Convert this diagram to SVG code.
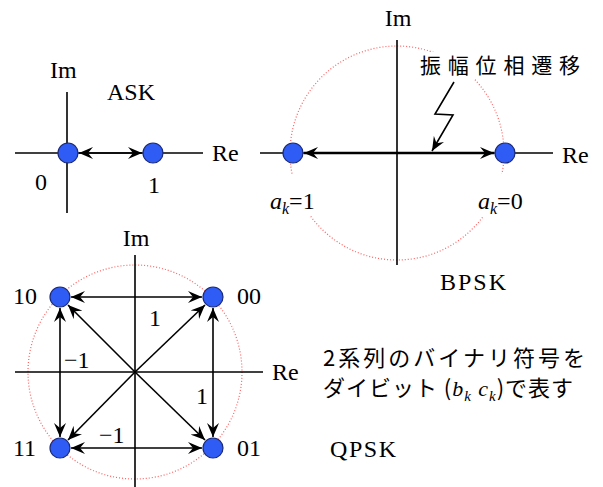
<svg xmlns="http://www.w3.org/2000/svg" width="603" height="487" viewBox="0 0 603 487">
<style>
.ax{stroke:#000;stroke-width:1.6;fill:none}
.ar{stroke:#000;stroke-width:1.6;fill:none;marker-end:url(#ah)}
.ar2{stroke:#000;stroke-width:1.6;fill:none;marker-start:url(#ah);marker-end:url(#ah)}
.dot{fill:#2f5cf5;stroke:#1b2a78;stroke-width:1.2}
.ring{fill:none;stroke:#ff6060;stroke-width:1.2;stroke-dasharray:1 2}
.t{font-family:"Liberation Serif","Times New Roman",serif;font-size:24px;fill:#000}
.j{font-family:"Noto Sans CJK JP",sans-serif;font-size:21px;fill:#000}
.bg{fill:#fff}
</style>
<defs>
<marker id="ah" viewBox="0 0 14 12" refX="14" refY="6" markerWidth="14" markerHeight="12" markerUnits="userSpaceOnUse" orient="auto-start-reverse">
<path d="M0,0 L14,6 L0,12 L5,6 z" fill="#000"/>
</marker>
</defs>
<rect width="603" height="487" fill="#fff"/>

<g id="axes">
<line class="ax" x1="15" y1="153" x2="203" y2="153"/>
<line class="ax" x1="67" y1="92" x2="67" y2="213"/>
<circle class="ring" cx="397" cy="153" r="107"/>
<line class="ax" x1="260" y1="153" x2="553" y2="153"/>
<line class="ax" x1="397" y1="40" x2="397" y2="265"/>
<circle class="ring" cx="135" cy="372" r="107"/>
<line class="ax" x1="15" y1="372" x2="263" y2="372"/>
<line class="ax" x1="135" y1="255" x2="135" y2="487"/>
</g>

<g id="connectors">
<line class="ar2" x1="79" y1="153" x2="142" y2="153"/>
<line class="ar2" x1="304" y1="153" x2="494" y2="153" style="stroke-width:2.6"/>
<polyline class="ar" points="454,82 435,114 453,115 432,151"/>
<line class="ar2" x1="71" y1="297" x2="202" y2="297"/>
<line class="ar2" x1="71" y1="448" x2="202" y2="448"/>
<line class="ar2" x1="60" y1="308" x2="60" y2="437"/>
<line class="ar2" x1="213" y1="308" x2="213" y2="437"/>
<line class="ar" x1="135" y1="372" x2="205" y2="305"/>
<line class="ar" x1="135" y1="372" x2="68" y2="305"/>
<line class="ar" x1="135" y1="372" x2="68" y2="440"/>
<line class="ar" x1="135" y1="372" x2="205" y2="440"/>
</g>

<g id="ask">
<text class="t" x="50" y="78">Im</text>
<text class="t" x="107" y="100">ASK</text>
<text class="t" x="212" y="161">Re</text>
<text class="t" x="35" y="190">0</text>
<text class="t" x="148" y="193">1</text>
<circle class="dot" cx="68" cy="153" r="10"/>
<circle class="dot" cx="153" cy="153" r="10"/>
</g>

<g id="bpsk">
<text class="t" x="398" y="26" text-anchor="middle">Im</text>
<rect class="bg" x="418" y="52" width="166" height="27"/>
<text class="j" x="420" y="73" textLength="160" lengthAdjust="spacing">振幅位相遷移</text>
<text class="t" x="562" y="163">Re</text>
<circle class="dot" cx="293" cy="153" r="10"/>
<circle class="dot" cx="505" cy="153" r="10"/>
<rect class="bg" x="266" y="174" width="56" height="42"/>
<text class="t" x="270" y="209"><tspan font-style="italic">a</tspan><tspan font-style="italic" font-size="16" dy="5">k</tspan><tspan dy="-5">=1</tspan></text>
<rect class="bg" x="476" y="174" width="56" height="42"/>
<text class="t" x="478" y="209"><tspan font-style="italic">a</tspan><tspan font-style="italic" font-size="16" dy="5">k</tspan><tspan dy="-5">=0</tspan></text>
<text class="t" x="440" y="290" textLength="66" lengthAdjust="spacing">BPSK</text>
</g>

<g id="qpsk">
<text class="t" x="136" y="246" text-anchor="middle">Im</text>
<text class="t" x="272" y="380">Re</text>
<circle class="dot" cx="60" cy="297" r="10"/>
<circle class="dot" cx="213" cy="297" r="10"/>
<circle class="dot" cx="60" cy="448" r="10"/>
<circle class="dot" cx="213" cy="448" r="10"/>
<text class="t" x="13" y="304">10</text>
<text class="t" x="237" y="304">00</text>
<text class="t" x="13" y="456">11</text>
<text class="t" x="237" y="456">01</text>
<text class="t" x="149" y="326">1</text>
<text class="t" x="64" y="368">−1</text>
<text class="t" x="196" y="404">1</text>
<text class="t" x="99" y="443">−1</text>
<text class="t" x="330" y="457" textLength="66" lengthAdjust="spacing">QPSK</text>
</g>

<g id="note">
<text class="j" x="323" y="366" textLength="262" lengthAdjust="spacing" style="font-size:22px">2系列のバイナリ符号を</text>
<text class="j" x="323" y="396" textLength="250" lengthAdjust="spacing" style="font-size:22px"><tspan>ダイビット (</tspan><tspan font-family="Liberation Serif" font-style="italic">b</tspan><tspan font-family="Liberation Serif" font-style="italic" font-size="15" dy="5">k</tspan><tspan font-family="Liberation Serif" dy="-5"> </tspan><tspan font-family="Liberation Serif" font-style="italic">c</tspan><tspan font-family="Liberation Serif" font-style="italic" font-size="15" dy="5">k</tspan><tspan dy="-5">)で表す</tspan></text>
</g>
</svg>
